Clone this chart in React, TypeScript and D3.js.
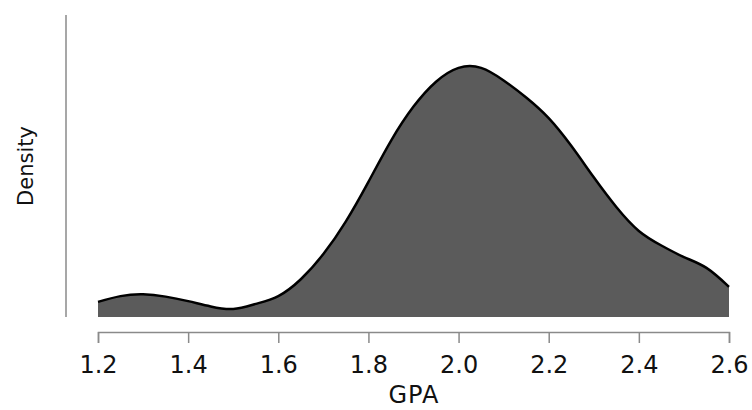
import React, { useEffect, useRef } from 'react';
import * as d3 from 'd3';

// GPA grid and the estimated density
const gpa = [1.2, 1.25, 1.3, 1.35, 1.4, 1.45, 1.5, 1.55, 1.6, 1.65, 1.7, 1.75, 1.8, 1.85, 1.9,
    1.95, 2.0, 2.05, 2.1, 2.15, 2.2, 2.25, 2.3, 2.35, 2.4, 2.45, 2.5, 2.55, 2.6];
const density = [0.06, 0.083, 0.09, 0.081, 0.063, 0.042, 0.032, 0.052, 0.083, 0.15, 0.25, 0.38,
    0.537, 0.70, 0.836, 0.935, 0.99, 0.99, 0.94, 0.872, 0.79, 0.68, 0.555, 0.437, 0.342, 0.284,
    0.238, 0.195, 0.12];
const xTicks = [1.2, 1.4, 1.6, 1.8, 2.0, 2.2, 2.4, 2.6];

function App() {
    const ref = useRef<SVGSVGElement>(null);

    useEffect(() => {
        const svg = d3.select(ref.current);
        svg.selectAll('*').remove();

        const x = d3.scaleLinear().domain([1.2, 2.6]).range([98, 729]);
        const y = d3.scaleLinear().domain([0, 1.2]).range([317, 15]);
        const data = gpa.map((g, i) => ({ g, d: density[i] }));

        const area = d3.area<{ g: number; d: number }>()
            .x(d => x(d.g))
            .y0(y(0))
            .y1(d => y(d.d))
            .curve(d3.curveNatural);
        const line = d3.line<{ g: number; d: number }>()
            .x(d => x(d.g))
            .y(d => y(d.d))
            .curve(d3.curveNatural);

        svg.append('path')
            .datum(data)
            .attr('d', area)
            .attr('fill', '#5b5b5b');
        svg.append('path')
            .datum(data)
            .attr('d', line)
            .attr('fill', 'none')
            .attr('stroke', '#000')
            .attr('stroke-width', 2.5);

        // y axis is just a bare line
        svg.append('line')
            .attr('x1', 66).attr('x2', 66)
            .attr('y1', y.range()[1]).attr('y2', y(0))
            .attr('stroke', '#8a8a8a')
            .attr('stroke-width', 1.5);

        const xAxis = svg.append('g')
            .attr('transform', 'translate(0,332)')
            .call(d3.axisBottom(x)
                .tickValues(xTicks)
                .tickFormat(d3.format('.1f'))
                .tickSizeOuter(0)
                .tickSize(11)
                .tickPadding(13));
        xAxis.selectAll('path, line').attr('stroke', '#8a8a8a').attr('stroke-width', 1.5);
        xAxis.selectAll('text')
            .attr('font-family', 'DejaVu Sans')
            .attr('font-size', 24)
            .attr('fill', '#111');

        svg.append('text')
            .attr('x', 414)
            .attr('y', 403)
            .attr('text-anchor', 'middle')
            .attr('font-family', 'DejaVu Sans')
            .attr('font-size', 24)
            .attr('letter-spacing', 1)
            .attr('fill', '#111')
            .text('GPA');

        svg.append('text')
            .attr('transform', 'translate(33,166) rotate(-90)')
            .attr('text-anchor', 'middle')
            .attr('font-family', 'DejaVu Sans')
            .attr('font-size', 21)
            .attr('fill', '#111')
            .text('Density');
    }, []);

    return (
        <svg ref={ref} width={752} height={410}
            style={{ position: 'absolute', left: 0, top: 0, background: '#fff' }} />
    );
}

export default App;
